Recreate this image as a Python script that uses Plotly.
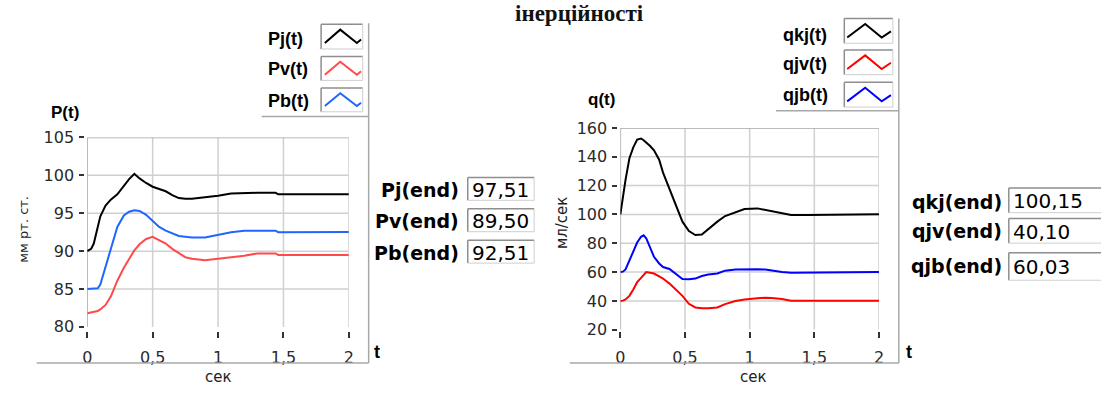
import plotly.graph_objects as go

# ---------------- data ----------------
# pressure panel
t_p = [0, 0.03, 0.05, 0.08, 0.1, 0.14, 0.18, 0.23, 0.28, 0.32, 0.36, 0.4, 0.45, 0.5,
       0.55, 0.6, 0.65, 0.7, 0.75, 0.8, 0.9, 1.0, 1.1, 1.2, 1.3, 1.44, 1.46, 1.6, 1.8, 2.0]
p_j = [90.0, 90.3, 91.0, 93.0, 94.6, 96.0, 96.8, 97.5, 98.7, 99.5, 100.2, 99.6, 99.0, 98.5,
       98.2, 97.9, 97.4, 97.0, 96.9, 96.9, 97.1, 97.3, 97.6, 97.7, 97.7, 97.7, 97.5, 97.51, 97.51, 97.51]
p_v = [81.8, 81.9, 82.0, 82.1, 82.3, 82.9, 84.0, 86.1, 87.8, 89.0, 90.1, 90.9, 91.6, 91.9,
       91.5, 91.0, 90.3, 89.8, 89.2, 89.0, 88.8, 89.0, 89.2, 89.4, 89.7, 89.7, 89.5, 89.50, 89.50, 89.50]
p_b = [85.0, 85.0, 85.05, 85.1, 85.6, 88.0, 90.1, 93.2, 94.7, 95.2, 95.4, 95.3, 94.8, 94.0,
       93.2, 92.7, 92.3, 92.0, 91.9, 91.8, 91.8, 92.1, 92.5, 92.7, 92.7, 92.7, 92.5, 92.51, 92.51, 92.51]

# flow panel
t_q = [0, 0.02, 0.04, 0.07, 0.1, 0.13, 0.16, 0.18, 0.2, 0.23, 0.26, 0.3, 0.33, 0.38, 0.43,
       0.48, 0.53, 0.58, 0.63, 0.68, 0.75, 0.81, 0.89, 0.96, 1.06, 1.12, 1.17, 1.25, 1.32,
       1.45, 1.58, 1.6, 1.8, 2.0]
q_kj = [100.0, 113.0, 124.0, 139.0, 146.5, 152.0, 152.7, 151.5, 150.0, 147.5, 144.5, 138.0,
        129.0, 117.5, 106.0, 95.0, 88.5, 85.7, 86.0, 90.0, 95.0, 98.9, 101.6, 103.8, 104.2,
        103.2, 102.0, 100.8, 99.7, 99.7, 99.7, 100.15, 100.15, 100.15]
q_jv = [40.0, 40.2, 41.0, 43.5, 48.0, 53.0, 56.0, 58.0, 60.0, 59.5, 59.0, 57.0, 55.5, 52.0,
        48.0, 43.5, 38.0, 35.5, 34.9, 34.9, 35.5, 37.8, 40.0, 41.0, 41.8, 42.2, 42.0, 41.3,
        40.1, 40.1, 40.1, 40.10, 40.10, 40.10]
q_jb = [60.0, 60.3, 61.8, 68.0, 75.0, 80.5, 84.5, 85.5, 83.5, 77.0, 70.6, 66.0, 63.5, 62.2,
        58.5, 55.2, 55.0, 55.5, 57.3, 58.3, 59.0, 61.0, 61.8, 62.0, 62.0, 61.8, 61.0, 60.0,
        59.6, 59.6, 59.6, 60.03, 60.03, 60.03]

p_names = ["Pj(t)", "Pv(t)", "Pb(t)"]
p_end_names = ["Pj(end)", "Pv(end)", "Pb(end)"]
q_names = ["qkj(t)", "qjv(t)", "qjb(t)"]
q_end_names = ["qkj(end)", "qjv(end)", "qjb(end)"]

x_ticks = [0, 0.5, 1, 1.5, 2]
x_ticktext = ["0", "0,5", "1", "1,5", "2"]
p_ticks = [80, 85, 90, 95, 100, 105]
q_ticks = [20, 40, 60, 80, 100, 120, 140, 160]

title_text = "інерційності"

# ---------------- styling ----------------
W, H = 1101, 394
P_COLORS = ["#000000", "#ff4a4a", "#1f66ff"]
Q_COLORS = ["#000000", "#ff0000", "#0000ff"]
GRID = "#d0d0d0"
BORDER = "#a4a4a4"
FRAME = "#a8a8a8"
TICK_FONT = dict(family="DejaVu Sans", size=16, color="#2a2a2a")


def fx(x):
    return x / W


def fy(y):
    return 1 - y / H


def fmt(v):
    return f"{v:.2f}".replace(".", ",")


fig = go.Figure()

# plot-area rectangles (pixels): left, top, right, bottom
P_BOX = (83, 135, 347, 334)
Q_BOX = (621, 125, 882, 337)

for t, ys, c in zip([t_p] * 3, [p_j, p_v, p_b], P_COLORS):
    fig.add_trace(go.Scatter(x=t, y=ys, mode="lines", line=dict(color=c, width=2),
                             xaxis="x", yaxis="y", showlegend=False, hoverinfo="skip"))
for t, ys, c in zip([t_q] * 3, [q_kj, q_jv, q_jb], Q_COLORS):
    fig.add_trace(go.Scatter(x=t, y=ys, mode="lines", line=dict(color=c, width=2),
                             xaxis="x2", yaxis="y2", showlegend=False, hoverinfo="skip"))


def xaxis_cfg(box):
    return dict(domain=[fx(box[0]), fx(box[2])], range=[0, 2], anchor="free",
                position=fy(338), tickvals=x_ticks, ticktext=x_ticktext,
                ticks="outside", ticklen=6, tickwidth=1.5, tickcolor="#333",
                showgrid=False, zeroline=False, showline=False,
                tickfont=TICK_FONT, ticklabelstandoff=6, fixedrange=True)


def yaxis_cfg(box, rng, ticks):
    return dict(domain=[fy(box[3]), fy(box[1])], range=rng, anchor="free",
                position=fx(box[0] - 3), tickvals=ticks,
                ticks="outside", ticklen=5, tickwidth=1.5, tickcolor="#333",
                showgrid=False, zeroline=False, showline=False,
                tickfont=TICK_FONT, ticklabelstandoff=2, fixedrange=True)


shapes = []
annotations = []


def grid_shapes(xr, yr, xticks, yticks, rng_x, rng_y):
    # vertical and horizontal grid lines inside the plot area
    for v in xticks:
        if v == rng_x[0]:
            continue
        shapes.append(dict(type="line", xref=xr, yref=yr, x0=v, x1=v, y0=rng_y[0], y1=rng_y[1],
                           line=dict(color=GRID, width=1.5), layer="below"))
    for v in yticks:
        if v in (rng_y[0], rng_y[1]):
            continue
        shapes.append(dict(type="line", xref=xr, yref=yr, x0=rng_x[0], x1=rng_x[1], y0=v, y1=v,
                           line=dict(color=GRID, width=1.5), layer="below"))
    # left and top border of the plot area
    shapes.append(dict(type="line", xref=xr, yref=yr, x0=rng_x[0], x1=rng_x[0], y0=rng_y[0], y1=rng_y[1],
                       line=dict(color=BORDER, width=1.5), layer="below"))
    shapes.append(dict(type="line", xref=xr, yref=yr, x0=rng_x[0], x1=rng_x[1], y0=rng_y[1], y1=rng_y[1],
                       line=dict(color=BORDER, width=1.5), layer="below"))


grid_shapes("x", "y", x_ticks, p_ticks, [0, 2], [80, 105])
grid_shapes("x2", "y2", x_ticks, q_ticks, [0, 2], [20, 160])


def hline(x0, x1, y, color=FRAME, w=1.5):
    shapes.append(dict(type="line", xref="paper", yref="paper", x0=fx(x0), x1=fx(x1),
                       y0=fy(y), y1=fy(y), line=dict(color=color, width=w)))


def vline(x, y0, y1, color=FRAME, w=1.5):
    shapes.append(dict(type="line", xref="paper", yref="paper", x0=fx(x), x1=fx(x),
                       y0=fy(y0), y1=fy(y1), line=dict(color=color, width=w)))


# panel frames
hline(259, 367, 113)
vline(367, 15, 372)
hline(32, 367, 372)
hline(778, 902, 107)
vline(902, 10, 372)
hline(570, 902, 372)


def sunken_box(x0, y0, x1, y1):
    shapes.append(dict(type="rect", xref="paper", yref="paper", x0=fx(x0), x1=fx(x1),
                       y0=fy(y1), y1=fy(y0), fillcolor="white", line=dict(width=0)))
    hline(x0, x1, y0, "#8e8e8e", 1.5)
    vline(x0, y0, y1, "#8e8e8e", 1.5)
    hline(x0, x1, y1, "#cfcfcf", 1)
    vline(x1, y0, y1, "#cfcfcf", 1)


def zigzag(x0, y0, x1, y1, color, pts):
    w, h = x1 - x0, y1 - y0
    coords = [(fx(x0 + px * w), fy(y0 + py * h)) for px, py in pts]
    path = "M " + " L ".join(f"{a:.5f},{b:.5f}" for a, b in coords)
    shapes.append(dict(type="path", xref="paper", yref="paper", path=path,
                       line=dict(color=color, width=2)))


def text(x, y, s, size, family="Liberation Sans", xanchor="center", yanchor="middle",
         angle=0, color="#000"):
    annotations.append(dict(x=fx(x), y=fy(y), xref="paper", yref="paper", text=s,
                            showarrow=False, xanchor=xanchor, yanchor=yanchor,
                            textangle=angle, font=dict(family=family, size=size, color=color)))


# legends
p_leg_rows = [(16, 42), (50, 75), (83, 108)]
p_leg_text_y = [32, 63, 97]
for name, c, (ya, yb), ty in zip(p_names, P_COLORS, p_leg_rows, p_leg_text_y):
    sunken_box(319, ya, 361, yb)
    zigzag(319, ya, 361, yb, c, [(0.09, 0.76), (0.46, 0.22), (0.86, 0.76), (0.96, 0.62)])
    text(263, ty, f"<b>{name}</b>", 18, xanchor="left")

q_leg_rows = [(10, 36), (43, 69), (77, 103)]
q_leg_text_y = [27, 58, 90]
for name, c, (ya, yb), ty in zip(q_names, Q_COLORS, q_leg_rows, q_leg_text_y):
    sunken_box(847, ya, 896, yb)
    zigzag(847, ya, 896, yb, c, [(0.06, 0.77), (0.43, 0.22), (0.77, 0.77), (0.96, 0.52)])
    text(783, ty, f"<b>{name}</b>", 18, xanchor="left")

# final values
p_end_vals = [p_j[-1], p_v[-1], p_b[-1]]
p_rows = [(177, 201), (210, 234), (243, 267)]
for name, v, (ya, yb) in zip(p_end_names, p_end_vals, p_rows):
    sunken_box(467, ya, 534, yb)
    text(460, (ya + yb) / 2 + 1, f"<b>{name}</b>", 19, family="DejaVu Sans", xanchor="right")
    text(469, (ya + yb) / 2 + 1, fmt(v), 20, family="DejaVu Sans", xanchor="left")

q_end_vals = [q_kj[-1], q_jv[-1], q_jb[-1]]
q_rows = [(188, 214), (220, 246), (256, 285)]
q_label_y = [203, 233, 270]
for name, v, (ya, yb), ly in zip(q_end_names, q_end_vals, q_rows, q_label_y):
    sunken_box(1013, ya, 1110, yb)
    text(1008, ly, f"<b>{name}</b>", 19, family="DejaVu Sans", xanchor="right")
    text(1015, (ya + yb) / 2 + 1, fmt(v), 20, family="DejaVu Sans", xanchor="left")

# axis captions
text(61, 109, "<b>P(t)</b>", 17)
text(602, 95, "<b>q(t)</b>", 17)
text(19, 231, "мм рт. ст.", 13, family="DejaVu Sans", angle=-90, color="#222")
text(562, 224, "мл/сек", 15, family="DejaVu Sans", angle=-90, color="#222")
text(215, 387, "сек", 15, family="DejaVu Sans", color="#222")
text(755, 387, "сек", 15, family="DejaVu Sans", color="#222")
text(375, 360, "<b>t</b>", 18)
text(912, 360, "<b>t</b>", 18)

# heading
text(580, 5, f"<b>{title_text}</b>", 23, family="Liberation Serif", color="#111")

fig.update_layout(
    width=W, height=H,
    margin=dict(l=0, r=0, t=0, b=0),
    paper_bgcolor="white", plot_bgcolor="white",
    xaxis=xaxis_cfg(P_BOX),
    yaxis=yaxis_cfg(P_BOX, [80, 105], p_ticks),
    xaxis2=xaxis_cfg(Q_BOX),
    yaxis2=yaxis_cfg(Q_BOX, [20, 160], q_ticks),
    shapes=shapes,
    annotations=annotations,
    showlegend=False,
)

fig.write_html("out.html")
